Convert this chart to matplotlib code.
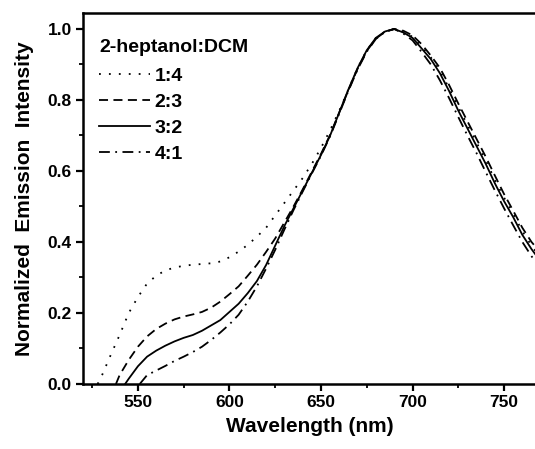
import matplotlib
matplotlib.use("Agg")
import matplotlib.pyplot as plt
from matplotlib.ticker import MultipleLocator

plt.rcParams['font.family'] = ['Liberation Sans', 'DejaVu Sans']
plt.rcParams['font.weight'] = 'bold'

labels = ["1:4", "2:3", "3:2", "4:1"]
legend_title = "2-heptanol:DCM"

# 1:4 (dotted)
wl_14 = [528, 530, 535, 540, 545, 550, 555, 560, 565, 570, 575, 580, 585, 590, 595, 600,
         605, 610, 615, 620, 625, 630, 635, 640, 645, 650, 655, 660, 665, 670, 675, 680,
         685, 690, 695, 700, 705, 710, 715, 720, 725, 730, 735, 740, 745, 750, 755, 760, 765, 770]
i_14 = [0.0, 0.02, 0.08, 0.138, 0.20, 0.245, 0.283, 0.305, 0.32, 0.328, 0.333, 0.336, 0.338, 0.34, 0.345, 0.357,
        0.373, 0.392, 0.415, 0.44, 0.475, 0.51, 0.545, 0.58, 0.62, 0.665, 0.715, 0.77, 0.83, 0.89, 0.94, 0.975,
        0.993, 1.0, 0.992, 0.978, 0.95, 0.92, 0.882, 0.833, 0.78, 0.73, 0.68, 0.63, 0.575, 0.525, 0.48, 0.43, 0.39, 0.355]

# 2:3 (dashed)
wl_23 = [538, 540, 545, 550, 555, 560, 565, 570, 575, 580, 585, 590, 595, 600, 605, 610,
         615, 620, 625, 630, 635, 640, 645, 650, 655, 660, 665, 670, 675, 680, 685, 690,
         695, 700, 705, 710, 715, 720, 725, 730, 735, 740, 745, 750, 755, 760, 765, 770]
i_23 = [0.0, 0.025, 0.068, 0.105, 0.134, 0.155, 0.17, 0.182, 0.19, 0.196, 0.203, 0.215, 0.232, 0.253, 0.275, 0.305,
        0.336, 0.372, 0.41, 0.455, 0.50, 0.548, 0.598, 0.648, 0.702, 0.765, 0.828, 0.888, 0.938, 0.973, 0.992, 1.0,
        0.995, 0.982, 0.957, 0.925, 0.89, 0.842, 0.79, 0.74, 0.69, 0.64, 0.587, 0.535, 0.488, 0.44, 0.40, 0.37]

# 3:2 (solid)
wl_32 = [543, 545, 550, 555, 560, 565, 570, 575, 580, 585, 590, 595, 600, 605, 610, 615,
         620, 625, 630, 635, 640, 645, 650, 655, 660, 665, 670, 675, 680, 685, 690, 695,
         700, 705, 710, 715, 720, 725, 730, 735, 740, 745, 750, 755, 760, 765, 770]
i_32 = [0.0, 0.015, 0.05, 0.077, 0.094, 0.108, 0.12, 0.13, 0.138, 0.15, 0.165, 0.18, 0.203, 0.226, 0.256, 0.29,
        0.335, 0.39, 0.445, 0.495, 0.545, 0.595, 0.645, 0.70, 0.765, 0.83, 0.89, 0.94, 0.975, 0.993, 1.0, 0.99,
        0.975, 0.945, 0.915, 0.875, 0.825, 0.77, 0.72, 0.67, 0.62, 0.565, 0.515, 0.47, 0.42, 0.38, 0.345]

# 4:1 (dash-dot)
wl_41 = [551, 555, 560, 565, 570, 575, 580, 585, 590, 595, 600, 605, 610, 615, 620, 625,
         630, 635, 640, 645, 650, 655, 660, 665, 670, 675, 680, 685, 690, 695, 700, 705,
         710, 715, 720, 725, 730, 735, 740, 745, 750, 755, 760, 765, 770]
i_41 = [0.0, 0.025, 0.038, 0.051, 0.065, 0.077, 0.09, 0.105, 0.124, 0.145, 0.168, 0.195, 0.232, 0.275, 0.325, 0.378,
        0.435, 0.49, 0.542, 0.593, 0.643, 0.698, 0.762, 0.826, 0.886, 0.936, 0.972, 0.992, 1.0, 0.987, 0.968, 0.935,
        0.9, 0.855, 0.805, 0.752, 0.70, 0.65, 0.597, 0.545, 0.495, 0.447, 0.40, 0.36, 0.325]

series = [(wl_14, i_14), (wl_23, i_23), (wl_32, i_32), (wl_41, i_41)]
styles = [(0, (1, 4.5)), (0, (5, 3)), '-', (0, (6, 3, 1, 3))]

W, H = 535, 449
fig = plt.figure(figsize=(W / 100, H / 100), dpi=100)
left, right, top, bottom = 83, 537, 13, 384
ax = fig.add_axes([left / W, (H - bottom) / H, (right - left) / W, (bottom - top) / H])

for (wl, inten), lab, ls in zip(series, labels, styles):
    ax.plot(wl, inten, color='black', lw=1.3, linestyle=ls, label=lab)

ax.set_xlim(520, 768)
ax.set_ylim(0, 1.045)
ax.xaxis.set_major_locator(MultipleLocator(50))
ax.xaxis.set_minor_locator(MultipleLocator(25))
ax.yaxis.set_major_locator(MultipleLocator(0.2))
ax.yaxis.set_minor_locator(MultipleLocator(0.1))
ax.yaxis.set_major_formatter(plt.FormatStrFormatter('%.1f'))

for s in ax.spines.values():
    s.set_linewidth(1.8)
ax.spines['right'].set_visible(False)
ax.tick_params(which='major', direction='out', length=5, width=1.6, labelsize=12.5, pad=3)
ax.tick_params(which='minor', direction='out', length=3, width=1.3)

ax.set_xlabel("Wavelength (nm)", fontsize=15, fontweight='bold', labelpad=5)
ax.set_ylabel("Normalized  Emission  Intensity", fontsize=15, fontweight='bold', labelpad=10)

ax_w, ax_h = right - left, bottom - top
fs_px = 14 * 100 / 72
leg = ax.legend(title=legend_title, loc='upper left', frameon=False, fontsize=14,
                title_fontproperties={'weight': 'bold', 'size': 14},
                handlelength=2.6, handletextpad=0.25, labelspacing=0.43,
                borderpad=0.36, borderaxespad=0,
                bbox_to_anchor=(9 / ax_w, 1 - 19 / ax_h))
leg._legend_box.align = 'left'
leg._legend_box.sep = 0.43 * fs_px
for t in leg.get_texts():
    t.set_fontweight('bold')

fig.savefig("out.png", dpi=100)
